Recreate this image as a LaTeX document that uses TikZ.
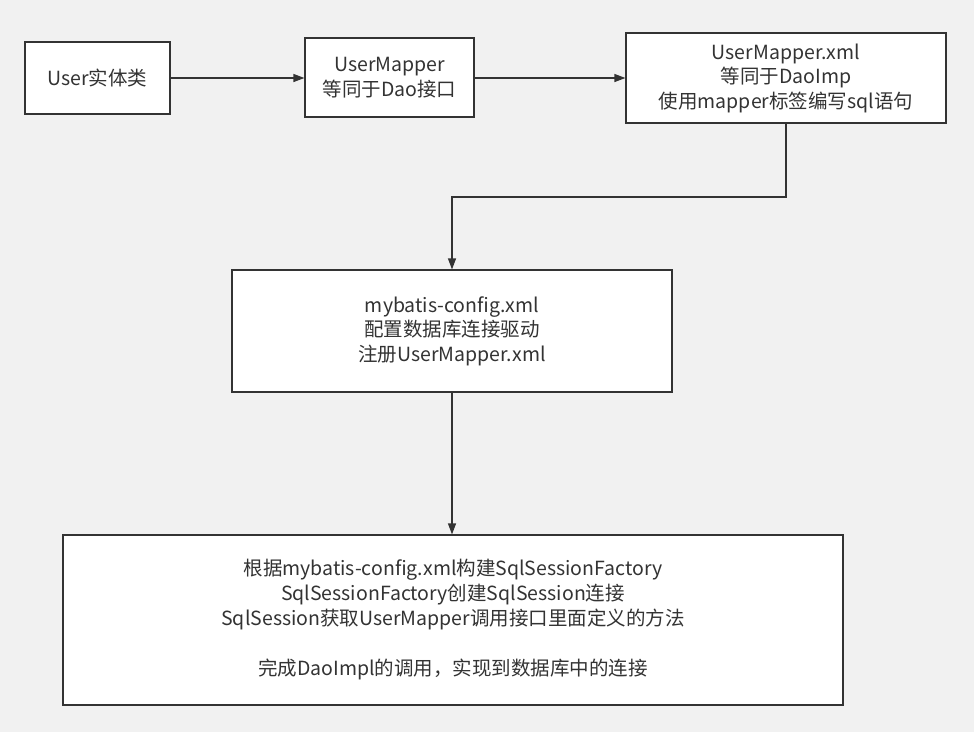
\documentclass[tikz,border=0pt]{standalone}
\usepackage{fontspec}
\setmainfont{Noto Sans CJK SC}
\usetikzlibrary{arrows.meta}
\definecolor{bg}{HTML}{F1F1F1}
\definecolor{ln}{HTML}{333333}
\begin{document}
\begin{tikzpicture}[x=1pt,y=-1pt,
  box/.style={draw=ln,line width=1.2pt,fill=white,text=ln,align=center,inner sep=0pt,
    font=\fontsize{19.5}{24.5}\selectfont},
  conn/.style={draw=ln,line width=1.2pt,-{Triangle[length=11pt,width=8pt]}}]
\fill[bg] (0,0) rectangle (974,732);
\useasboundingbox (0,0) rectangle (974,732);
\node[box,minimum width=145pt,minimum height=72pt] (a) at (97.5,78) {User实体类};
\node[box,minimum width=169pt,minimum height=79pt] (b) at (389.5,77.5) {UserMapper\\等同于Dao接口};
\node[box,minimum width=320pt,minimum height=90pt] (c) at (786,78) {UserMapper.xml\\等同于DaoImp\\使用mapper标签编写sql语句};
\node[box,minimum width=440pt,minimum height=122pt] (d) at (452,331) {mybatis-config.xml\\配置数据库连接驱动\\注册UserMapper.xml};
\node[box,minimum width=780pt,minimum height=170pt,font=\fontsize{19.5}{25}\selectfont] (e) at (453,620)
  {根据mybatis-config.xml构建SqlSessionFactory\\SqlSessionFactory创建SqlSession连接\\SqlSession获取UserMapper调用接口里面定义的方法\\[25pt]完成DaoImpl的调用，实现到数据库中的连接};
\coordinate (t1) at (786,197);
\coordinate (t2) at (452,197);
\draw[conn] (a.east |- 0,78) -- (b.west |- 0,78);
\draw[conn] (b.east |- 0,78) -- (c.west |- 0,78);
\draw[conn] (c.south -| t1) -- (t1) -- (t2) -- (d.north -| t2);
\draw[conn] (d.south) -- (e.north -| d.south);
\end{tikzpicture}
\end{document}
